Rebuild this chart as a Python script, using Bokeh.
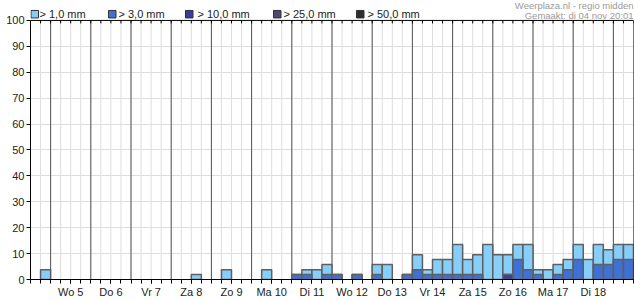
from bokeh.plotting import figure
from bokeh.models import Range1d, FixedTicker, Label, ColumnDataSource
from bokeh.embed import file_html
from bokeh.resources import INLINE

# ---- data ----
days = ["Wo 5", "Do 6", "Vr 7", "Za 8", "Zo 9", "Ma 10", "Di 11", "Wo 12",
        "Do 13", "Vr 14", "Za 15", "Zo 16", "Ma 17", "Di 18"]
legend_labels = ["> 1,0 mm", "> 3,0 mm", "> 10,0 mm", "> 25,0 mm", "> 50,0 mm"]
# chance (%) per 6-hour slot, 60 slots
p1 = [0, 3.8, 0, 0, 0, 0, 0, 0, 0, 0,
      0, 0, 0, 0, 0, 0, 1.9, 0, 0, 3.8,
      0, 0, 0, 3.8, 0, 0, 1.9, 3.8, 3.8, 5.8,
      1.9, 0, 1.9, 0, 5.8, 5.8, 0, 1.9, 9.6, 3.8,
      7.7, 7.7, 13.5, 7.7, 9.6, 13.5, 9.6, 9.6, 13.5, 13.5,
      3.8, 3.8, 5.8, 7.7, 13.5, 7.7, 13.5, 11.5, 13.5, 13.5]
p3 = [0, 0, 0, 0, 0, 0, 0, 0, 0, 0,
      0, 0, 0, 0, 0, 0, 0, 0, 0, 0,
      0, 0, 0, 0, 0, 0, 1.9, 1.9, 0, 1.9,
      1.9, 0, 1.9, 0, 1.9, 0, 0, 1.9, 3.8, 1.9,
      1.9, 1.9, 1.9, 1.9, 1.9, 0, 0, 1.9, 7.7, 3.8,
      1.9, 0, 1.9, 3.8, 7.7, 0, 5.8, 5.8, 7.7, 7.7]
p10 = [0] * 47 + [1.9] + [0] * 12
p25 = [0] * 60
p50 = [0] * 60
title_lines = ["Weerplaza.nl - regio midden", "Gemaakt: di 04 nov 20:01"]

series = [p1, p3, p10, p25, p50]
colors = ["#86CFFA", "#3F70D3", "#3B3BA0", "#4A4A72", "#2E2E2E"]

n_slots = len(p1)
W, H = 635, 300
L, R, B = 30, 2, 20
TOPPAD = 20               # pixels above the 100 line
fw = W - L - R
plot_h = H - B            # frame height (frame reaches the top of the canvas)
ymax = 100 * plot_h / (plot_h - TOPPAD)

def xd(px):
    return (px - L) / fw * n_slots

def yd(py):
    return (plot_h - py) / plot_h * ymax

p = figure(width=W, height=H, x_range=Range1d(0, n_slots), y_range=Range1d(0, ymax),
           output_backend="svg", toolbar_location=None,
           min_border_left=L, min_border_right=R, min_border_top=0, min_border_bottom=B)
p.background_fill_color = "white"
p.border_fill_color = "white"
p.outline_line_color = None

all_slots = list(range(0, n_slots + 1))
day_starts = [2 + 4 * k for k in range(len(days) + 1)]
day_centers = [4 + 4 * k for k in range(len(days))]

# grids
p.xgrid.visible = False
p.ygrid.ticker = FixedTicker(ticks=list(range(10, 100, 10)))
p.ygrid.grid_line_color = "#dddddd"
p.segment(x0=all_slots, y0=[0] * len(all_slots), x1=all_slots, y1=[100] * len(all_slots),
          line_color="#dddddd", line_width=1)
p.segment(x0=day_starts, y0=[0] * len(day_starts), x1=day_starts, y1=[100] * len(day_starts),
          line_color="#555555", line_width=1)

font = "Liberation Sans"
# x axis
xa = p.xaxis[0]
xa.ticker = FixedTicker(ticks=day_centers, minor_ticks=all_slots)
xa.major_label_overrides = {c: d for c, d in zip(day_centers, days)}
xa.axis_line_color = "black"
xa.major_tick_line_color = "black"
xa.minor_tick_line_color = "black"
xa.major_tick_out = 4
xa.major_tick_in = 0
xa.minor_tick_out = 4
xa.minor_tick_in = 0
xa.major_label_standoff = 2
xa.major_label_text_font = font
xa.major_label_text_font_size = "11px"
xa.major_label_text_color = "#222222"

ya = p.yaxis[0]
ya.ticker = FixedTicker(ticks=list(range(0, 101, 10)))
ya.bounds = (0, 100)
ya.axis_line_color = "black"
ya.major_tick_line_color = "black"
ya.minor_tick_line_color = None
ya.major_tick_out = 4
ya.major_tick_in = 0
ya.major_label_standoff = 2
ya.major_label_text_font = font
ya.major_label_text_font_size = "11px"
ya.major_label_text_color = "#222222"

# bars (overlaid, each threshold drawn over the previous)
for vals, col in zip(series, colors):
    idx = [i for i, v in enumerate(vals) if v > 0]
    if not idx:
        continue
    src = ColumnDataSource(dict(left=idx, right=[i + 1 for i in idx],
                                top=[vals[i] for i in idx], bottom=[0] * len(idx)))
    p.quad(left="left", right="right", top="top", bottom="bottom", source=src,
           fill_color=col, line_color="#5f5f5f", line_width=1.5)

# top and right border, top ticks
tick_len = 3 * ymax / plot_h
p.segment(x0=[0, n_slots], y0=[100, 0], x1=[n_slots, n_slots], y1=[100, 100],
          line_color="black", line_width=1)
p.segment(x0=all_slots, y0=[100] * len(all_slots), x1=all_slots,
          y1=[100 - tick_len] * len(all_slots), line_color="black", line_width=1)

# legend
sq_px = [30.5, 108, 185, 273, 356]
tx_px = [39, 118, 197, 283, 367]
p.quad(left=[xd(s) for s in sq_px], right=[xd(s + 7.5) for s in sq_px],
       bottom=[yd(17.5)] * len(sq_px), top=[yd(10)] * len(sq_px),
       fill_color=colors, line_color="#333333", line_width=1)
for lab, tx in zip(legend_labels, tx_px):
    p.add_layout(Label(x=xd(tx), y=yd(13.5), text=lab, text_baseline="middle", text_align="left",
                       text_font=font, text_font_size="11px", text_color="#222222"))

for line, ty in zip(title_lines, [5, 15.5]):
    p.add_layout(Label(x=xd(633), y=yd(ty), text=line, text_baseline="middle",
                       text_align="right", text_font=font, text_font_size="9.5px",
                       text_color="#9a9a9a"))

open("out.html", "w").write(file_html(p, INLINE))
